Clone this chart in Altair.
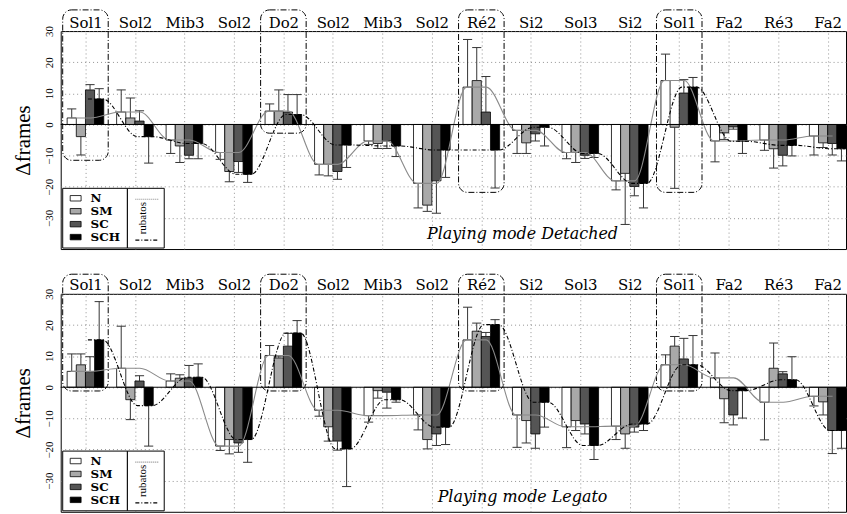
import json
import altair as alt
import pandas as pd

notes = ["Sol1", "Sol2", "Mib3", "Sol2", "Do2", "Sol2", "Mib3", "Sol2",
         "Ré2", "Si2", "Sol3", "Si2", "Sol1", "Fa2", "Ré3", "Fa2"]
series = ["N", "SM", "SC", "SCH"]
fills = ["#ffffff", "#a9a9a9", "#555555", "#000000"]

# Playing mode Detached : bar values and error-bar ends
det_N = [2.1, 4.0, -5.0, -9.0, 4.3, -12.8, -5.3, -18.9, 12.0, -1.9, -9.0, -18.1, 14.1, -5.3, -5.0, -3.7]
det_N_err = [5.0, 11.1, -9.3, -11.2, 6.6, -16.2, -6.4, -26.8, 27.3, -9.3, -11.0, -21.0, 22.6, -12.0, -8.3, -9.8]
det_SM = [-3.9, 2.1, -6.9, -15.1, 4.3, -12.8, -6.1, -25.9, 14.1, -5.9, -9.0, -15.7, -0.9, -2.7, -7.8, -5.9]
det_SM_err = [-9.8, 8.5, -12.2, -18.4, 11.1, -16.5, -7.7, -27.9, 24.7, -9.3, -12.2, -32.1, -20.5, -4.8, -14.0, -7.4]
det_SC = [11.1, 1.1, -9.9, -11.9, 4.0, -15.1, -5.3, -18.1, 4.0, -3.0, -9.9, -19.9, 10.1, -0.8, -9.9, -6.1]
det_SC_err = [12.8, 4.4, -11.0, -15.4, 9.6, -17.6, -7.7, -28.5, 15.4, -5.3, -10.9, -22.9, 14.4, -1.5, -13.3, -9.8]
det_SCH = [8.2, -3.9, -6.1, -16.0, 3.2, -6.6, -6.9, -8.2, -8.2, -0.9, -9.3, -18.9, 12.0, -5.4, -6.7, -7.8]
det_SCH_err = [11.5, -12.4, -11.0, -18.6, 9.6, -13.8, -10.3, -17.0, -20.4, -6.9, -10.6, -26.8, 15.1, -9.3, -10.1, -11.7]

# Playing mode Legato
leg_N = [5.1, 6.1, 2.0, -18.9, 10.2, -7.4, -9.1, -8.9, 15.2, -8.9, -12.7, -12.5, 7.2, 3.0, -4.8, -2.9]
leg_N_err = [10.7, 19.6, 4.3, -20.3, 13.4, -9.3, -11.2, -13.7, 25.7, -19.3, -19.4, -16.8, 10.4, 11.0, -16.9, -6.0]
leg_SM = [7.2, -4.0, 2.9, -16.8, 9.4, -12.7, -1.1, -16.8, 18.0, -10.7, -10.7, -15.0, 13.2, -3.7, 6.1, -4.7]
leg_SM_err = [10.7, -10.4, 4.0, -21.4, 10.0, -17.3, -3.5, -19.8, 20.6, -17.9, -13.9, -19.6, 16.3, -11.4, 14.2, -8.9]
leg_SC = [5.0, 2.0, 3.0, -17.9, 13.2, -17.3, -1.6, -15.0, 16.3, -15.0, -11.8, -12.8, 9.1, -8.9, 4.3, -13.9]
leg_SC_err = [9.8, 3.7, 7.0, -20.9, 17.3, -20.2, -6.7, -18.7, 17.6, -19.6, -15.0, -14.4, 15.7, -12.1, 5.0, -21.3]
leg_SCH = [15.2, -5.9, 3.2, -16.8, 17.4, -19.8, -4.0, -12.8, 20.1, -4.8, -18.7, -11.8, 7.2, -1.1, 2.4, -13.9]
leg_SCH_err = [27.5, -18.9, 7.5, -24.1, 21.4, -31.9, -4.8, -18.4, 21.7, -12.8, -23.2, -13.9, 16.6, -9.9, 9.8, -19.6]

boxed_notes = [0, 4, 8, 12]
det_box_bottom = [-11.5, -2.8, -21.8, -21.8]
leg_box_bottom = [-1.2, -1.2, -1.2, -1.2]
det_box_top = 36.8
leg_box_top = 36.3

W, H = 789, 219
BAR_W = 0.185
SERIF = "DejaVu Serif"

xscale = alt.Scale(domain=[-0.5, 15.37], nice=False, zero=False)
yscale = alt.Scale(domain=[-40, 30], nice=False, zero=False)
label_expr = json.dumps(notes, ensure_ascii=False) + "[datum.value]"
X_AXIS = alt.Axis(orient="top", values=list(range(16)), labelExpr=label_expr,
                  domain=False, ticks=False, grid=True, gridDash=[1, 3],
                  gridColor="#777777", gridWidth=0.8, labelFont=SERIF,
                  labelFontSize=15, labelPadding=1, labelColor="black", title=None)
Y_AXIS = alt.Axis(values=[-30, -20, -10, 0, 10, 20, 30], domain=False, ticks=False,
                  grid=True, gridDash=[1, 3], gridColor="#777777", gridWidth=0.8,
                  labelAngle=270, labelAlign="center", labelBaseline="bottom",
                  labelFont="Liberation Serif", labelFontSize=11, labelPadding=6,
                  labelColor="black",
                  title="Δframes", titleFont="Liberation Serif", titleFontSize=21,
                  titleFontWeight="normal", titlePadding=10, titleColor="black")


def X(f):
    return alt.X(f, scale=xscale, axis=X_AXIS)


def Y(f):
    return alt.Y(f, scale=yscale, axis=Y_AXIS)


def panel(vals, errs, box_bottom, box_top, mode_label):
    rows = []
    for s, name in enumerate(series):
        for i in range(len(notes)):
            rows.append({"idx": i, "s": s, "series": name,
                         "v": vals[s][i], "e": errs[s][i]})
    df = pd.DataFrame(rows)
    base = alt.Chart(df).transform_calculate(
        xc=f"datum.idx + (datum.s - 1.5) * {BAR_W}"
    ).transform_calculate(
        xl=f"datum.xc - {BAR_W / 2}", xr=f"datum.xc + {BAR_W / 2}"
    )

    boxes = alt.Chart(pd.DataFrame({"idx": boxed_notes, "bottom": box_bottom})).transform_calculate(
        xl="datum.idx - 0.46", xr="datum.idx + 0.46", top=str(box_top)
    ).mark_rect(filled=False, stroke="black", strokeWidth=1, strokeDash=[6, 2, 1, 2],
                cornerRadius=9).encode(x=X("xl:Q"), x2="xr:Q", y=Y("top:Q"), y2="bottom:Q")

    bars = base.mark_bar(stroke="black", strokeWidth=0.8, clip=True).encode(
        x=X("xl:Q"), x2="xr:Q", y=Y("v:Q"), y2=alt.datum(0),
        fill=alt.Fill("series:N", scale=alt.Scale(domain=series, range=fills),
                      legend=alt.Legend(title=None, orient="none", legendX=6, legendY=H - 60,
                                        padding=3, rowPadding=1,
                                        symbolType="M-1,-0.5H1V0.5H-1Z", symbolSize=120,
                                        symbolStrokeColor="black", symbolStrokeWidth=0.8,
                                        labelFont=SERIF, labelFontWeight="bold",
                                        labelFontSize=12, labelOffset=9, labelColor="black")),
    )
    stems = base.mark_rule(color="#333333", strokeWidth=1, clip=True).encode(
        x=X("xc:Q"), y=Y("v:Q"), y2="e:Q")
    caps = base.mark_rule(color="#333333", strokeWidth=1, clip=True).encode(
        x=X("xl:Q"), x2="xr:Q", y=Y("e:Q"))

    crow = []
    for i in range(len(notes)):
        crow += [{"c": "N", "x": i - 0.3, "v": vals[0][i]}, {"c": "N", "x": i + 0.1, "v": vals[0][i]}]
        crow += [{"c": "SCH", "x": i + 0.05, "v": vals[3][i]}, {"c": "SCH", "x": i + 0.35, "v": vals[3][i]}]
    cdf = pd.DataFrame(crow)
    gray_curve = alt.Chart(cdf).transform_filter("datum.c == 'N'").mark_line(
        interpolate="monotone", color="#8a8a8a", strokeWidth=1.1, clip=True
    ).encode(x=X("x:Q"), y=Y("v:Q"))
    black_curve = alt.Chart(cdf).transform_filter("datum.c == 'SCH'").mark_line(
        interpolate="monotone", color="black", strokeWidth=1.1, strokeDash=[4, 2, 1, 2], clip=True
    ).encode(x=X("x:Q"), y=Y("v:Q"))

    zero = alt.Chart(pd.DataFrame({"z": [0]})).mark_rule(color="black", strokeWidth=1).encode(
        y=Y("z:Q"))

    one = pd.DataFrame({"t": ["rubatos"]})
    leg_box1 = alt.Chart(one).mark_rect(fill="white", stroke="black", strokeWidth=1).encode(
        x=alt.value(2), x2=alt.value(67), y=alt.value(H - 61), y2=alt.value(H - 1))
    leg_box2 = alt.Chart(one).mark_rect(fill="white", stroke="black", strokeWidth=1).encode(
        x=alt.value(67), x2=alt.value(104), y=alt.value(H - 61), y2=alt.value(H - 1))
    rub_text = alt.Chart(one).mark_text(angle=270, font="Liberation Serif", fontSize=11,
                                        color="black").encode(
        x=alt.value(83), y=alt.value(H - 31), text="t:N")
    rub_l1 = alt.Chart(one).mark_rule(color="#888888", strokeWidth=1.2, strokeDash=[1, 1]).encode(
        x=alt.value(75), x2=alt.value(98), y=alt.value(H - 50))
    rub_l2 = alt.Chart(one).mark_rule(color="black", strokeWidth=1.2, strokeDash=[4, 2, 1, 2]).encode(
        x=alt.value(75), x2=alt.value(98), y=alt.value(H - 9))

    mode = alt.Chart(pd.DataFrame({"t": [mode_label]})).mark_text(
        font="DejaVu Serif", fontStyle="italic", fontSize=16, color="black",
        align="center", baseline="alphabetic"
    ).encode(x=alt.value(464), y=alt.value(H - 10), text="t:N")

    return alt.layer(boxes, bars, stems, caps, gray_curve, black_curve, zero,
                     leg_box1, leg_box2, rub_text, rub_l1, rub_l2, mode).properties(
        width=W, height=H)


det_vals = [det_N, det_SM, det_SC, det_SCH]
det_errs = [det_N_err, det_SM_err, det_SC_err, det_SCH_err]
leg_vals = [leg_N, leg_SM, leg_SC, leg_SCH]
leg_errs = [leg_N_err, leg_SM_err, leg_SC_err, leg_SCH_err]

top = panel(det_vals, det_errs, det_box_bottom, det_box_top, "Playing mode Detached")
bottom = panel(leg_vals, leg_errs, leg_box_bottom, leg_box_top, "Playing mode Legato")

chart = alt.vconcat(top, bottom, spacing=23).resolve_legend(fill="independent").properties(
    padding={"left": 12, "top": 7, "right": 0, "bottom": 0}, background="white"
).configure_view(stroke="black", strokeWidth=1)

chart.save("out.html", embed_options={"renderer": "svg", "actions": False})
